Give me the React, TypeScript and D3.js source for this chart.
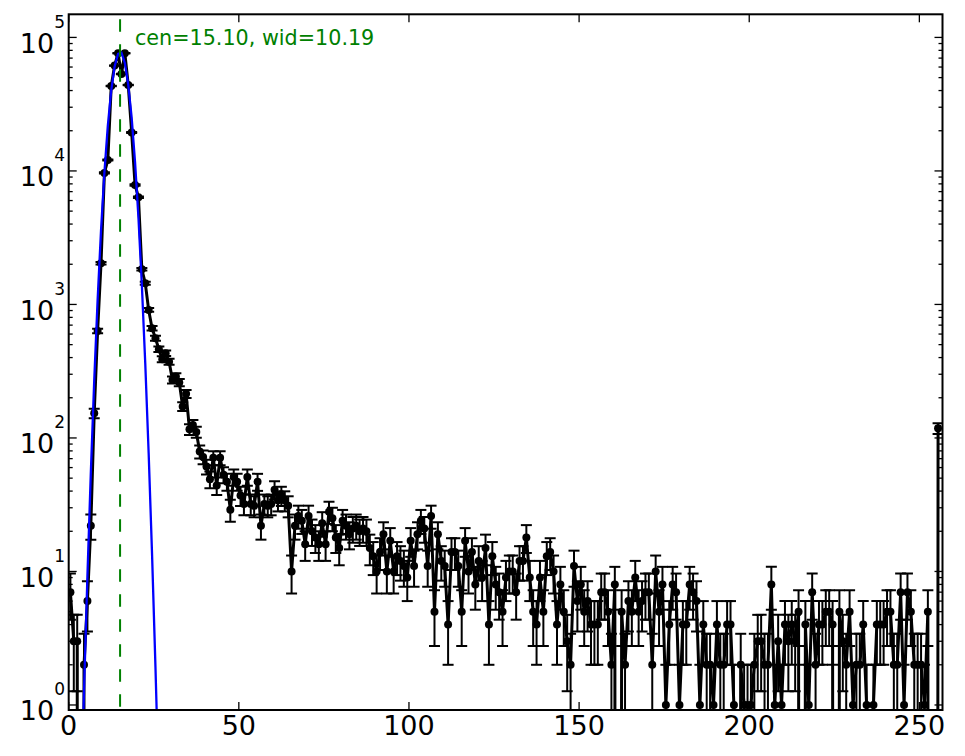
import React from 'react';
import * as d3 from 'd3';

// Counts per channel (0..255)
const counts: number[] = [
  7, 3, 3, 0, 2, 6, 22, 153, 633, 2036,
  9660, 12090, 43300, 61500, 76200, 53300, 76200, 44000, 19400, 7850,
  6350, 1835, 1443, 910, 663, 558, 462, 389, 431, 373,
  272, 288, 260, 172, 214, 116, 125, 111, 79, 72,
  61, 49, 71, 44, 71, 53, 47, 29, 51, 47,
  37, 32, 51, 32, 31, 47, 22, 32, 31, 32,
  41, 34, 37, 34, 31, 10, 22, 26, 24, 16,
  26, 20, 18, 16, 23, 16, 28, 25, 18, 15,
  24, 22, 19, 21, 22, 20, 21, 20, 15, 13,
  10, 14, 19, 10, 17, 10, 13, 12, 11, 9,
  17, 11, 19, 24, 21, 11, 26, 5, 19, 12,
  11, 4, 14, 14, 11, 5, 17, 10, 14, 8,
  12, 9, 15, 4, 13, 8, 7, 5, 9, 10,
  10, 7, 12, 12, 18, 9, 5, 4, 9, 5,
  13, 14, 10, 4, 8, 5, 3, 2, 11, 6,
  8, 5, 6, 4, 4, 4, 7, 7, 5, 2,
  8, 0, 5, 2, 6, 5, 9, 5, 6, 7,
  7, 2, 10, 5, 8, 1, 4, 8, 7, 1,
  4, 4, 8, 7, 6, 1, 4, 2, 2, 1,
  4, 2, 2, 4, 4, 1, 0, 2, 1, 1,
  1, 2, 3, 3, 2, 2, 8, 1, 3, 1,
  4, 3, 4, 3, 5, 0, 4, 1, 7, 2,
  4, 4, 5, 5, 4, 0, 5, 3, 2, 5,
  1, 2, 2, 4, 1, 0, 1, 4, 4, 4,
  5, 5, 2, 2, 7, 1, 7, 5, 2, 2,
  2, 1, 5, 0, 0, 118,
];

// Gaussian fit parameters
const fitCen = 15.1;
const fitWid = 10.19;
const fitAmp = 78000;
const fitLabel = 'cen=15.10, wid=10.19';

const xTicks = [0, 50, 100, 150, 200, 250];
const yDecades = [0, 1, 2, 3, 4, 5];
const xDomain: [number, number] = [0, 256.8];
const yDomain: [number, number] = [0.917, 149000];

const W = 965;
const H = 756;
const L = 68.7;
const R = 942.5;
const T = 14.3;
const B = 710;
const FONT = 'DejaVu Sans, sans-serif';
const TINY = 1e-30;

export default function App() {
  const x = d3.scaleLinear().domain(xDomain).range([L, R]);
  const y = d3.scaleLog().domain(yDomain).range([B, T]);

  const centers = counts.map((_, i) => i + 0.5);
  const yv = (v: number) => (v > 0 ? y(v) : y(TINY));

  const dataLine = d3
    .line<number>()
    .x((_, i) => x(centers[i]))
    .y((c) => yv(c))(counts) as string;

  const fitVals = centers.map((c) => Math.max(fitAmp * Math.exp(-((c - fitCen) ** 2) / fitWid), TINY));
  const fitLine = d3
    .line<number>()
    .x((_, i) => x(centers[i]))
    .y((v) => y(v))(fitVals) as string;

  const minor: number[] = [];
  yDecades.forEach((k) => {
    for (let m = 2; m <= 9; m++) {
      const v = m * Math.pow(10, k);
      if (v >= yDomain[0] && v <= yDomain[1]) minor.push(v);
    }
  });

  const capHalf = 5.5;

  return (
    <svg
      width={W}
      height={H}
      style={{ position: 'absolute', left: 0, top: 0, background: '#fff' }}
      fontFamily={FONT}
    >
      <defs>
        <clipPath id="plotArea">
          <rect x={L} y={T} width={R - L} height={B - T} />
        </clipPath>
      </defs>
      <rect x={0} y={0} width={W} height={H} fill="#fff" />

      <g clipPath="url(#plotArea)">
        {/* error bars */}
        {counts.map((c, i) => {
          if (c <= 0) return null;
          const e = Math.sqrt(c);
          const cx = x(centers[i]);
          const yt = y(c + e);
          const lo = c - e;
          const yb = lo > 0 ? y(lo) : B + 50;
          return (
            <g key={'e' + i} stroke="#000" strokeWidth={2}>
              <line x1={cx} x2={cx} y1={yt} y2={yb} />
              <line x1={cx - capHalf} x2={cx + capHalf} y1={yt} y2={yt} />
              {lo > 0 && <line x1={cx - capHalf} x2={cx + capHalf} y1={yb} y2={yb} />}
            </g>
          );
        })}
        {/* data line */}
        <path d={dataLine} fill="none" stroke="#000" strokeWidth={3} strokeLinejoin="round" />
        {/* markers */}
        {counts.map((c, i) =>
          c > 0 ? <circle key={'m' + i} cx={x(centers[i])} cy={y(c)} r={4} fill="#000" /> : null
        )}
        {/* fit */}
        <path d={fitLine} fill="none" stroke="#0000ff" strokeWidth={2.3} />
        {/* centre line */}
        <line
          x1={x(fitCen)}
          x2={x(fitCen)}
          y1={B}
          y2={T}
          stroke="#008000"
          strokeWidth={2}
          strokeDasharray="12.4 12.6"
          strokeDashoffset={21.7}
        />
      </g>

      {/* fit label */}
      <text x={135} y={45} fontSize={20.7} fill="#008000">
        {fitLabel}
      </text>

      {/* x ticks */}
      {xTicks.map((t) => (
        <g key={'xt' + t}>
          <line x1={x(t)} x2={x(t)} y1={B} y2={B - 8} stroke="#000" strokeWidth={1.3} />
          <line x1={x(t)} x2={x(t)} y1={T} y2={T + 8} stroke="#000" strokeWidth={1.3} />
          <text x={x(t)} y={735} fontSize={27} textAnchor="middle" fill="#000">
            {t}
          </text>
        </g>
      ))}

      {/* y major ticks */}
      {yDecades.map((k) => {
        const v = Math.pow(10, k);
        const ty = y(v);
        return (
          <g key={'yt' + k}>
            <line x1={L} x2={L + 8} y1={ty} y2={ty} stroke="#000" strokeWidth={1.3} />
            <line x1={R} x2={R - 8} y1={ty} y2={ty} stroke="#000" strokeWidth={1.3} />
            <text x={65} y={ty + 15.5} fontSize={27} textAnchor="end" fill="#000">
              <tspan>10</tspan>
              <tspan dy={-25} fontSize={17}>
                {k}
              </tspan>
            </text>
          </g>
        );
      })}
      {/* y minor ticks */}
      {minor.map((v, i) => (
        <g key={'ym' + i}>
          <line x1={L} x2={L + 4} y1={y(v)} y2={y(v)} stroke="#000" strokeWidth={1.3} />
          <line x1={R} x2={R - 4} y1={y(v)} y2={y(v)} stroke="#000" strokeWidth={1.3} />
        </g>
      ))}

      {/* frame */}
      <rect x={L} y={T} width={R - L} height={B - T} fill="none" stroke="#000" strokeWidth={2} />
    </svg>
  );
}
